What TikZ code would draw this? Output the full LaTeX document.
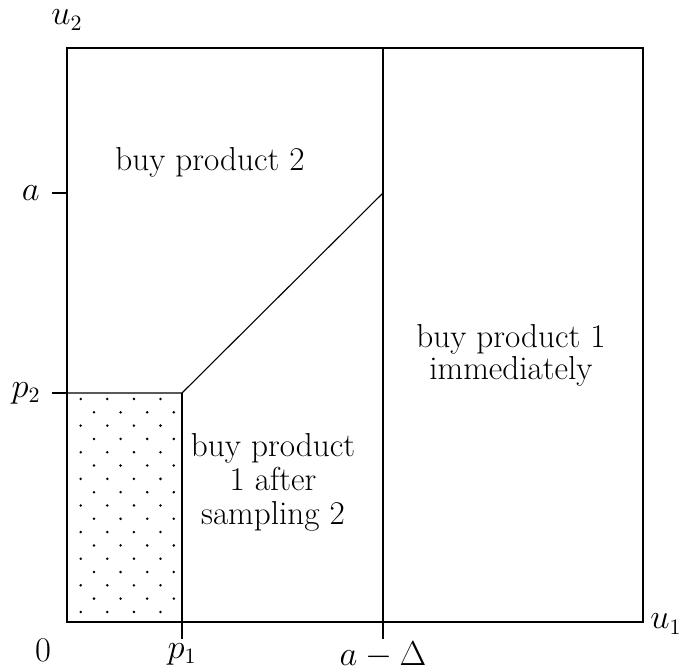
\documentclass[tikz,border=0pt]{standalone}
\usetikzlibrary{positioning}

\begin{document}
\begin{tikzpicture}[
  x=0.5pt, y=-0.5pt,
  font=\fontsize{16}{17}\selectfont,
  %% Line styles
  frame/.style  = {line width=0.7pt},
  bound/.style  = {line width=0.55pt},
  tick/.style   = {line width=0.7pt},
  %% Text styles
  lbl/.style    = {inner sep=0pt},
  region/.style = {align=center, inner sep=0pt,
                   font=\fontsize{16.6}{17}\selectfont},
]
\useasboundingbox (0,0) rectangle (686,672);

%% ── Key points ─────────────────────────────────────────────────
\coordinate (O)    at (67,622);
\coordinate (NE)   at (643,48);
\coordinate (p1b)  at (182,622);
\coordinate (adb)  at (383,622);
\coordinate (adt)  at (383,48);
\coordinate (p2l)  at (67,393);
\coordinate (al)   at (67,193);
\coordinate (kink) at (182,393);
\coordinate (top)  at (383,193);

%% ── Dotted region ──────────────────────────────────────────────
\foreach \i in {0,...,16}{
  \pgfmathsetmacro{\yy}{399+13.31*\i}
  \pgfmathsetmacro{\xo}{isodd(\i) ? 94 : 80.7}
  \foreach \j in {0,...,3}
    \fill (\xo+26.6*\j,\yy) circle (0.7pt);
}

%% ── Frame and boundaries ───────────────────────────────────────
\draw[frame] (O) rectangle (NE);
\draw[bound] (p1b) -- (kink);
\draw[bound] (p2l) -- (kink) -- (top);
\draw[bound] (adb) -- (adt);

%% ── Ticks ──────────────────────────────────────────────────────
\draw[tick] (al)  -- ++(-15,0);
\draw[tick] (p2l) -- ++(-15,0);
\draw[tick] (p1b) -- ++(0,17);
\draw[tick] (adb) -- ++(0,17);

%% ── Axis labels ────────────────────────────────────────────────
\node[lbl] (u2)   at (67,20)   {$u_2$};
\node[lbl] (u1)   at (666,624) {$u_1$};
\node[lbl] (zero) at (43,650)  {$0$};
\node[lbl, anchor=east] (la)  at (40,193) {$a$};
\node[lbl, anchor=east] (lp2) at (41,393) {$p_2$};
\node[lbl, anchor=north] (lp1) at (182,643) {$p_1$};
\node[lbl, anchor=north] (lad) at (383,641) {$a-\Delta$};

%% ── Region labels ──────────────────────────────────────────────
\node[region] (buy2) at (210,162) {buy product 2};
\node[region, font=\fontsize{16.6}{13.5}\selectfont] (buy1now) at (511,355)
  {buy product 1\\immediately};
\node[region] (buy1after) at (273,482)
  {buy product\\1 after\\sampling 2};

\end{tikzpicture}
\end{document}
